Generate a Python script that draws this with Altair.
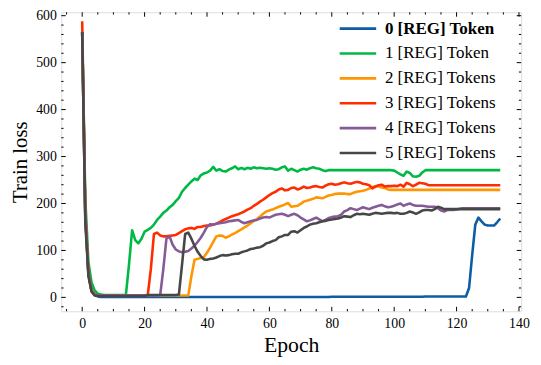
import altair as alt
import pandas as pd

names = ["0 [REG] Token", "1 [REG] Token", "2 [REG] Tokens",
         "3 [REG] Tokens", "4 [REG] Tokens", "5 [REG] Tokens"]
colors = ["#0C5DA5", "#00B945", "#FF9500", "#FF2C00", "#845B97", "#474747"]

epochs = list(range(135))

loss_0 = [565, 170, 50, 14, 5, 2, 1, 1, 1, 1,
          1, 1, 1, 1, 1, 1, 1, 1, 1, 1,
          1, 1, 1, 1, 1, 1, 1, 1, 1, 1,
          1, 1, 1, 1, 1, 1, 1, 1, 1, 1,
          1, 1, 1, 1, 1, 1, 1, 1, 1, 1,
          1, 1, 1, 1, 1, 1, 1, 1, 1, 1,
          1, 1, 1, 1, 1, 1, 1, 1, 1, 1,
          1, 1, 1, 1, 1, 1, 1, 1, 1, 1,
          1.5, 1.5, 1.5, 1.5, 1.5, 1.5, 1.5, 1.5, 1.5, 1.5,
          1.5, 1.5, 1.5, 1.5, 1.5, 1.5, 1.5, 1.5, 1.5, 1.5,
          1.5, 1.5, 1.5, 1.5, 1.5, 1.5, 1.5, 1.5, 1.5, 1.5,
          2, 2, 2, 2, 2, 2, 2, 2, 2, 2,
          2, 2, 2, 2, 20, 90, 155, 170, 162, 155,
          153, 153, 153, 160, 168]

loss_1 = [565, 210, 75, 32, 15, 8, 6, 5, 5, 5,
          5, 5, 5, 5, 5, 70, 143, 122, 115, 125,
          140, 144, 148, 155, 165, 172, 180, 185, 192, 197,
          205, 212, 225, 233, 240, 247, 253, 250, 260, 264,
          266, 270, 278, 270, 273, 269, 268, 272, 275, 279,
          273, 276, 273, 276, 274, 277, 275, 276, 275, 274,
          275, 274, 272, 273, 277, 279, 270, 274, 271, 268,
          272, 274, 272, 275, 277, 275, 274, 271, 269, 271,
          271, 271, 271, 271, 271, 271, 271, 271, 271, 271,
          271, 271, 271, 271, 271, 271, 271, 271, 271, 271,
          270, 266, 262, 259, 268, 265, 258, 257, 259, 266,
          271, 271, 271, 271, 271, 271, 271, 271, 271, 271,
          271, 271, 271, 271, 271, 271, 271, 271, 271, 271,
          271, 271, 271, 271, 271]

loss_2 = [565, 175, 50, 14, 5, 4, 4, 4, 4, 4,
          4, 4, 4, 4, 4, 4, 4, 4, 4, 4,
          4, 4, 4, 4, 4, 4, 4, 4, 4, 4,
          4, 4, 4, 4, 4, 45, 80, 82, 84, 86,
          95, 106, 118, 130, 132, 131, 127, 130, 134, 137,
          141, 145, 149, 153, 158, 163, 167, 172, 178, 183,
          185, 187, 190, 193, 195, 198, 201, 193, 194, 195,
          199, 204, 206, 208, 210, 213, 212, 211, 214, 217,
          218, 220, 221, 221, 221, 220, 220, 223, 225, 226,
          227, 229, 232, 235, 237, 236, 234, 233, 230, 229,
          229, 229, 229, 229, 229, 229, 229, 229, 229, 229,
          229, 229, 229, 229, 229, 229, 229, 229, 229, 229,
          229, 229, 229, 229, 229, 229, 229, 229, 229, 229,
          229, 229, 229, 229, 229]

loss_3 = [588, 180, 52, 15, 6, 4, 4, 4, 4, 4,
          4, 4, 4, 4, 4, 4, 4, 4, 4, 4,
          4, 4, 60, 135, 138, 132, 130, 130, 131, 132,
          133, 137, 141, 145, 147, 148, 146, 150, 150, 152,
          153, 153, 155, 157, 160, 164, 167, 170, 173, 175,
          177, 180, 183, 187, 190, 195, 199, 204, 208, 213,
          218, 222, 225, 230, 232, 228, 229, 233, 234, 230,
          232, 236, 233, 234, 236, 237, 235, 234, 238, 241,
          242, 240, 241, 243, 245, 243, 242, 244, 246, 245,
          242, 241, 239, 232, 236, 239, 240, 236, 237, 237,
          238, 237, 240, 236, 244, 241, 237, 240, 244, 243,
          242, 239, 239, 239, 239, 239, 239, 239, 239, 239,
          239, 239, 239, 239, 239, 239, 239, 239, 239, 239,
          239, 239, 239, 239, 239]

loss_4 = [565, 175, 50, 14, 5, 4, 4, 4, 4, 4,
          4, 4, 4, 4, 4, 4, 4, 4, 4, 4,
          4, 4, 4, 4, 4, 5, 60, 125, 130, 112,
          102, 98, 96, 97, 99, 104, 110, 118, 127, 138,
          150, 156, 155, 157, 158, 159, 160, 162, 163, 164,
          165, 161, 158, 160, 162, 164, 165, 168, 170, 171,
          170, 173, 176, 177, 178, 176, 173, 176, 178, 175,
          170, 166, 162, 164, 167, 170, 166, 162, 165, 169,
          171, 172, 173, 176, 183, 186, 190, 188, 186, 189,
          192, 190, 188, 191, 193, 195, 197, 194, 192, 193,
          195, 198, 200, 195, 198, 200, 197, 195, 195, 195,
          194, 193, 193, 193, 190, 185, 183, 186, 186, 186,
          187, 189, 190, 190, 190, 190, 190, 190, 190, 190,
          190, 190, 190, 190, 190]

loss_5 = [565, 160, 45, 12, 4, 3, 3, 3, 3, 3,
          3, 3, 3, 3, 3, 3, 3, 3, 3, 3,
          3, 5, 5, 5, 5, 5, 5, 5, 5, 5,
          5, 6, 70, 135, 138, 125, 110, 97, 88, 81,
          80, 82, 83, 85, 88, 90, 89, 90, 92, 93,
          93, 96, 98, 100, 103, 104, 106, 107, 110, 115,
          117, 120, 122, 128, 130, 133, 133, 140, 141, 138,
          143, 148, 151, 155, 157, 158, 160, 162, 163, 165,
          166, 167, 168, 170, 173, 172, 171, 175, 178, 177,
          178, 177, 176, 178, 180, 179, 178, 179, 180, 180,
          179, 180, 178, 178, 180, 183, 181, 178, 181, 185,
          186, 186, 185, 188, 193, 191, 188, 188, 188, 188,
          188, 188, 188, 188, 188, 188, 188, 188, 188, 188,
          188, 188, 188, 188, 188]

series = [loss_0, loss_1, loss_2, loss_3, loss_4, loss_5]

x_major = [0, 20, 40, 60, 80, 100, 120, 140]
x_minor = [-5, 5, 10, 15, 25, 30, 35, 45, 50, 55, 65, 70, 75, 85, 90, 95,
           105, 110, 115, 125, 130, 135]
y_major = [0, 100, 200, 300, 400, 500, 600]
y_minor = [-20, 20, 40, 60, 80, 120, 140, 160, 180, 220, 240, 260, 280,
           320, 340, 360, 380, 420, 440, 460, 480, 520, 540, 560, 580]

W, H = 466, 303
FONT = "Liberation Serif"
MAJ, MIN = 4.5, 2.3

xscale = alt.Scale(domain=[-6.7, 140.7], nice=False, zero=False)
yscale = alt.Scale(domain=[-29.6, 607.3], nice=False, zero=False)
cscale = alt.Scale(domain=names, range=colors)

legend = alt.Legend(
    title=None, orient="none", legendX=292, legendY=8,
    symbolType="M-3,0H3", symbolSize=152, symbolStrokeWidth=2.6,
    labelFont=FONT, labelFontSize=17.2, labelColor="black", labelOffset=18.7,
    labelLimit=0, rowPadding=7.2, padding=0,
    labelFontWeight=alt.ExprRef(expr="datum.label == '0 [REG] Token' ? 'bold' : 'normal'"),
)

xaxis = alt.Axis(values=x_major, ticks=False, domain=False, grid=False,
                 labelFont=FONT, labelFontSize=14, labelColor="black",
                 labelPadding=5, labelFlush=False, labelOverlap=False,
                 title="Epoch", titleFont=FONT, titleFontSize=22,
                 titleFontWeight="normal", titleColor="black", titlePadding=5)
yaxis = alt.Axis(values=y_major, ticks=False, domain=False, grid=False,
                 labelFont=FONT, labelFontSize=14, labelColor="black",
                 labelPadding=5, labelFlush=False, labelOverlap=False,
                 title="Train loss", titleFont=FONT, titleFontSize=21,
                 titleFontWeight="normal", titleColor="black", titlePadding=5)

layers = []
for i, (name, vals) in enumerate(zip(names, series)):
    df = pd.DataFrame({"epoch": epochs, "loss": vals, "series": name})
    layers.append(
        alt.Chart(df).mark_line(strokeWidth=2.6, strokeJoin="round").encode(
            x=alt.X("epoch:Q", scale=xscale, axis=xaxis),
            y=alt.Y("loss:Q", scale=yscale, axis=yaxis),
            color=alt.Color("series:N", scale=cscale, legend=legend),
        )
    )

def xticks(vals, length):
    d = pd.DataFrame({"epoch": vals})
    base = alt.Chart(d).mark_rule(color="black", strokeWidth=1)
    bottom = base.encode(x=alt.X("epoch:Q", scale=xscale, axis=xaxis),
                         y=alt.value(H), y2=alt.value(H - length))
    top = base.encode(x=alt.X("epoch:Q", scale=xscale, axis=xaxis),
                      y=alt.value(0), y2=alt.value(length))
    return [bottom, top]

def yticks(vals, length):
    d = pd.DataFrame({"loss": vals})
    base = alt.Chart(d).mark_rule(color="black", strokeWidth=1)
    left = base.encode(y=alt.Y("loss:Q", scale=yscale, axis=yaxis),
                       x=alt.value(0), x2=alt.value(length))
    right = base.encode(y=alt.Y("loss:Q", scale=yscale, axis=yaxis),
                        x=alt.value(W), x2=alt.value(W - length))
    return [left, right]

tick_layers = xticks(x_major, MAJ) + xticks(x_minor, MIN) + yticks(y_major, MAJ) + yticks(y_minor, MIN)

chart = alt.layer(*layers, *tick_layers).properties(
    width=W, height=H,
    autosize=alt.AutoSizeParams(type="none"),
    padding={"left": 54, "top": 2, "right": 12, "bottom": 44},
).configure_view(stroke="#222222", strokeWidth=1.1).configure(background="white")

chart.save("out.html", embed_options={"renderer": "svg", "actions": False})
